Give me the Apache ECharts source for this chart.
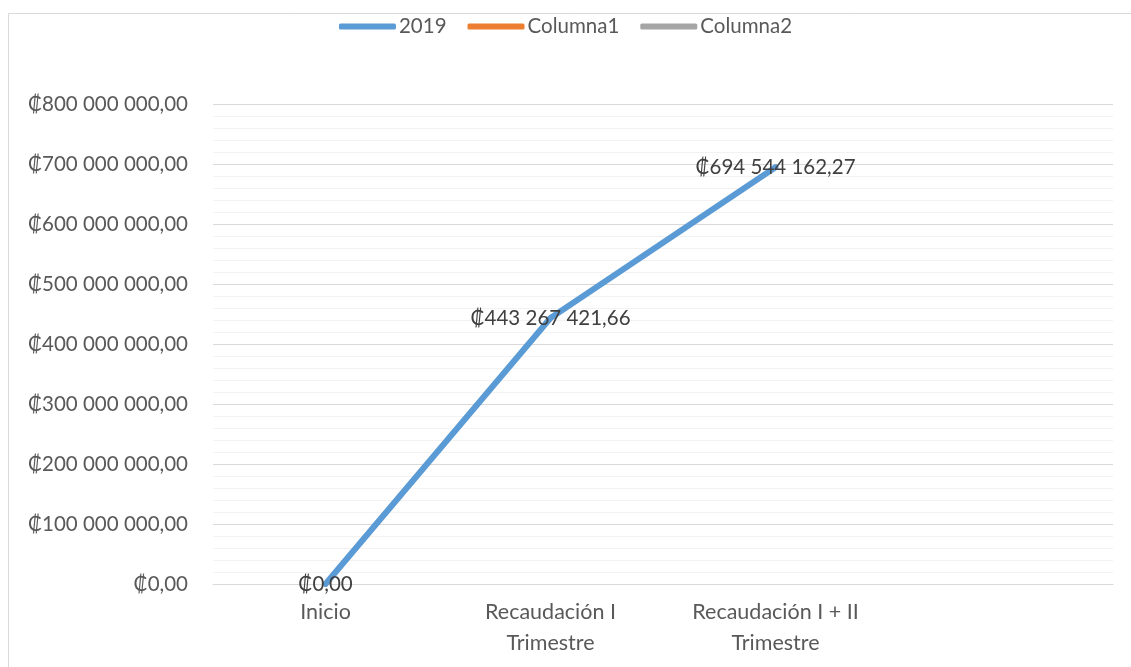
<!DOCTYPE html>
<html><head><meta charset="utf-8">
<script src="https://cdn.jsdelivr.net/npm/echarts@6/dist/echarts.min.js"></script>
<style>html,body{margin:0;padding:0;background:#fff}#c{width:1131px;height:667px}</style>
</head><body><div id="c"></div>
<script>
const categories = ['Inicio', 'Recaudación I\nTrimestre', 'Recaudación I + II\nTrimestre', ''];
const values2019 = [0, 443267421.66, 694544162.27, null];
const valuesColumna1 = [null, null, null, null];
const valuesColumna2 = [null, null, null, null];
const seriesNames = ['2019', 'Columna1', 'Columna2'];

function fmt(v, dec) {
  const fixed = Number(v).toFixed(dec);
  const parts = fixed.split('.');
  const intPart = parts[0].replace(/\B(?=(\d{3})+(?!\d))/g, ' ');
  return '₡' + intPart + ',' + parts[1];
}

const chart = echarts.init(document.getElementById('c'));
const font = 'Lato, "Open Sans", sans-serif';
chart.setOption({
  animation: false,
  textStyle: { fontFamily: font },
  graphic: [{
    type: 'rect', shape: { x: 8.5, y: 13.5, width: 1200, height: 700 },
    style: { fill: 'none', stroke: '#d9d9d9', lineWidth: 1 }, silent: true, z: 0
  }],
  legend: {
    top: 11, left: 'center',
    itemWidth: 57, itemHeight: 6, itemGap: 21,
    icon: 'roundRect',
    textStyle: { color: '#595959', fontSize: 20.5, fontFamily: font, padding: [0, 0, 0, -2] },
    data: seriesNames
  },
  grid: { left: 213, right: 18, top: 104, bottom: 83, containLabel: false },
  xAxis: {
    type: 'category', data: categories, boundaryGap: true,
    axisLine: { show: true, lineStyle: { color: '#d9d9d9', width: 1 } },
    axisTick: { show: false },
    axisLabel: { color: '#595959', fontSize: 21.5, fontFamily: font, lineHeight: 31, margin: 13, interval: 0 }
  },
  yAxis: {
    type: 'value', min: 0, max: 800000000, interval: 100000000,
    axisLine: { show: false }, axisTick: { show: false },
    axisLabel: { color: '#595959', fontSize: 20.5, fontFamily: font, margin: 25, formatter: v => fmt(v, 2) },
    splitLine: { show: true, lineStyle: { color: '#d9d9d9', width: 1 } },
    minorTick: { show: false, splitNumber: 5 },
    minorSplitLine: { show: true, lineStyle: { color: '#f2f2f2', width: 1 } }
  },
  series: [
    {
      name: seriesNames[0], type: 'line', data: values2019,
      symbol: 'circle', symbolSize: 2, showSymbol: true, showAllSymbol: true,
      lineStyle: { color: '#5b9bd5', width: 6, cap: 'round', join: 'round' },
      itemStyle: { color: '#5b9bd5' },
      label: { show: true, position: 'inside', color: '#404040', fontSize: 20.5, fontFamily: font,
        formatter: p => fmt(p.value, 2) },
      labelLayout: { hideOverlap: false },
      z: 3
    },
    { name: seriesNames[1], type: 'line', data: valuesColumna1, symbol: 'none',
      lineStyle: { color: '#ed7d31', width: 6 }, itemStyle: { color: '#ed7d31' } },
    { name: seriesNames[2], type: 'line', data: valuesColumna2, symbol: 'none',
      lineStyle: { color: '#a5a5a5', width: 6 }, itemStyle: { color: '#a5a5a5' } }
  ]
});
</script></body></html>
